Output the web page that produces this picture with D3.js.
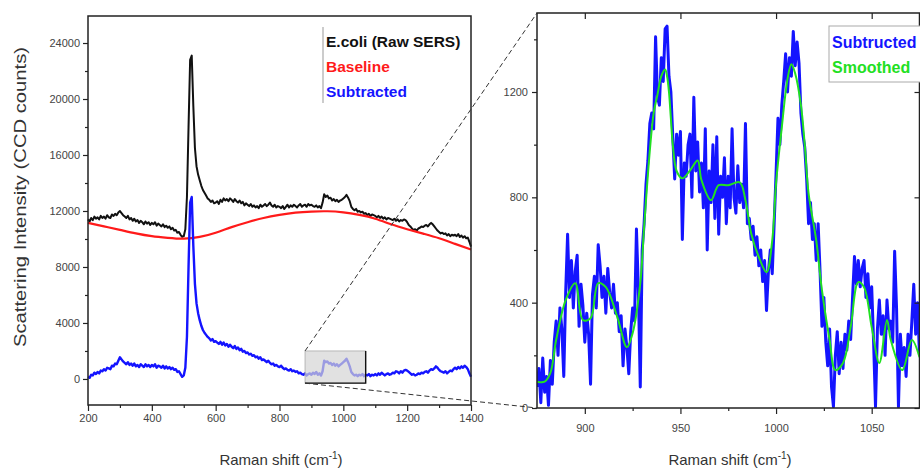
<!DOCTYPE html>
<html>
<head>
<meta charset="utf-8">
<script src="https://cdn.jsdelivr.net/npm/d3@7"></script>
<style>
body { margin: 0; background: #fff; }
svg { display: block; font-family: "Liberation Sans", Arial, sans-serif; }
</style>
</head>
<body>
<div id="chart"></div>
<script>
// full spectrum, 200..1400 cm-1 every 5 cm-1
const shiftStart = 200
const shiftStep = 5
const rawCounts = [
  11400, 11250, 11500, 11350, 11600, 11450, 11550, 11400, 11650, 11500,
  11600, 11450, 11700, 11550, 11500, 11750, 11650, 11800, 11700, 11900,
  12000, 11850, 11700, 11600, 11500, 11650, 11400, 11500, 11300, 11450,
  11250, 11350, 11150, 11300, 11200, 11050, 11250, 11100, 11200, 11000,
  11150, 11050, 11200, 10950, 11100, 11000, 10900, 11050, 10850, 10950,
  10800, 10900, 10700, 10800, 10600, 10650, 10450, 10500, 10300, 10150,
  10200, 10700, 13000, 18000, 22800, 23100, 19500, 16500, 15200, 14600,
  14200, 13800, 13500, 13300, 13100, 12900, 12800, 12650, 12750, 12550,
  12600, 12700, 12500, 12800, 12650, 12900, 12750, 12850, 12700, 12900,
  12800, 12650, 12850, 12700, 12600, 12750, 12550, 12650, 12400, 12550,
  12450, 12350, 12500, 12300, 12400, 12250, 12350, 12200, 12450, 12300,
  12400, 12500, 12350, 12450, 12600, 12400, 12300, 12450, 12250, 12350,
  12300, 12200, 12350, 12150, 12300, 12450, 12250, 12400, 12300, 12450,
  12350, 12250, 12400, 12500, 12300, 12400, 12450, 12300, 12500, 12400,
  12450, 12350, 12300, 12400, 12250, 12350, 12200, 12600, 13200, 13000,
  13100, 12900, 12950, 12750, 12850, 12700, 12800, 12650, 12750, 12800,
  12900, 13000, 13150, 12950, 12700, 12300, 12150, 12050, 12150, 11950,
  12000, 11900, 11950, 11800, 11850, 11700, 11800, 11650, 11750, 11700,
  11650, 11550, 11650, 11500, 11600, 11450, 11550, 11400, 11500, 11450,
  11400, 11350, 11450, 11300, 11400, 11250, 11350, 11300, 11400, 11350,
  11200, 11000, 10900, 10750, 10650, 10700, 10600, 10750, 10800, 10900,
  10850, 10950, 11000, 10900, 11050, 11150, 11050, 10900, 10750, 10600,
  10500, 10400, 10450, 10350, 10400, 10250, 10350, 10200, 10300, 10250,
  10300, 10200, 10350, 10150, 10250, 10100, 10200, 10050, 10100, 9800,
  9450
]
const subtractedCounts = [
  150, 80, 300, 250, 450, 350, 500, 400, 600, 550,
  700, 600, 800, 750, 700, 950, 900, 1100, 1050, 1300,
  1550, 1400, 1250, 1150, 1050, 1200, 1000, 1100, 950, 1100,
  900, 1000, 850, 1050, 950, 850, 1050, 900, 1000, 850,
  1000, 900, 1050, 800, 950, 900, 800, 950, 750, 900,
  750, 850, 700, 800, 650, 700, 500, 550, 350, 150,
  250, 800, 3000, 8000, 12600, 13000, 9500, 6800, 5400, 4700,
  4200, 3800, 3500, 3300, 3150, 3000, 2900, 2750, 2850, 2650,
  2700, 2600, 2500, 2650, 2450, 2600, 2400, 2500, 2300, 2450,
  2300, 2200, 2350, 2150, 2250, 2050, 2150, 1950, 2000, 1850,
  1900, 1750, 1800, 1650, 1700, 1550, 1600, 1450, 1550, 1350,
  1400, 1300, 1200, 1300, 1150, 1050, 1100, 950, 1000, 900,
  850, 950, 800, 700, 750, 650, 600, 700, 550, 600,
  500, 550, 400, 450, 350, 300, 400, 250, 350, 400,
  300, 450, 350, 500, 300, 400, 250, 550, 1300, 1200,
  1250, 1100, 1150, 1000, 1100, 950, 1050, 900, 1000, 1100,
  1200, 1300, 1450, 1200, 900, 500, 350, 250, 300, 200,
  300, 250, 350, 200, 300, 250, 350, 200, 300, 250,
  350, 250, 400, 300, 450, 350, 250, 350, 400, 300,
  350, 450, 400, 550, 500, 400, 550, 450, 600, 650,
  600, 500, 400, 300, 350, 250, 300, 400, 350, 450,
  400, 500, 550, 450, 600, 700, 650, 750, 900, 800,
  650, 550, 500, 450, 550, 400, 500, 600, 550, 700,
  800, 700, 850, 750, 900, 800, 950, 850, 700, 400,
  150
]
const baselineShift = [200, 250, 300, 350, 400, 450, 500, 550, 600, 650, 700, 750, 800,
  850, 900, 950, 1000, 1050, 1100, 1150, 1200, 1250, 1300, 1350, 1400]
const baselineCounts = [11150, 10900, 10650, 10400, 10200, 10080, 10020, 10150, 10450, 10850,
  11200, 11500, 11720, 11880, 11960, 11980, 11900, 11720, 11450, 11050, 10700, 10380, 10050, 9650, 9250]

// zoomed window, 875..1075 cm-1 every 1 cm-1
const zoomStart = 875
const zoomCounts = [
  80, 150, 20, 190, 60, 120, 10, 180, 90, 250,
  330, 200, 380, 300, 120, 440, 660, 420, 560, 380,
  520, 580, 310, 470, 390, 250, 360, 280, 90, 430,
  500, 380, 620, 540, 420, 500, 360, 530, 440, 380,
  470, 360, 400, 290, 350, 160, 300, 230, 130, 290,
  380, 330, 680, 450, 80, 600, 700, 850, 940, 1080,
  1120, 1060, 1410, 1180, 1150, 1330, 1240, 1440, 1450, 1260,
  1200, 1030, 870, 1040, 960, 1050, 640, 930, 880, 1000,
  1040, 800, 1180, 900, 1010, 820, 930, 760, 1060, 600,
  900, 780, 1000, 720, 1030, 660, 880, 800, 950, 700,
  880, 760, 1060, 800, 740, 920, 780, 850, 760, 1080,
  700, 720, 640, 690, 580, 650, 540, 600, 480, 560,
  370, 520, 600, 510, 700, 890, 1100, 1000, 1150, 1240,
  1345, 1200, 1330, 1260, 1430, 1300, 1390, 1310, 1120, 1040,
  990, 870, 700, 780, 640, 700, 560, 700, 520, 310,
  420, 250, 160, 300, 80, 5, 200, 290, 130, 250,
  150, 280, 220, 330, 260, 420, 575, 470, 560, 460,
  530, 560, 420, 510, 380, 460, 250, 5, 300, 410,
  280, 350, 200, 410, 300, 330, 250, 595, 380, 5,
  280, 160, 230, 120, 280, 200, 330, 470, 280, 400,
  200
]
const smoothShift = [875, 879, 882, 885, 890, 895, 899, 903, 907, 911, 917, 922, 925, 929, 931, 934,
  936, 938, 940, 942, 943, 944, 945, 946, 948, 951, 955, 959, 961, 966, 970, 975, 981, 984, 987,
  991, 995, 998, 1000, 1003, 1006, 1008, 1010, 1013, 1015, 1017, 1021, 1024, 1028, 1031, 1035,
  1039, 1043, 1046, 1050, 1054, 1058, 1060, 1066, 1071, 1075]
const smoothCounts = [100, 100, 133, 258, 410, 474, 334, 341, 474, 459, 345, 231, 284, 474, 686, 978,
  1120, 1190, 1260, 1285, 1260, 1200, 1100, 1000, 900, 872, 902, 940, 865, 789, 846, 846, 857, 789, 663,
  573, 516, 637, 853, 1066, 1250, 1305, 1270, 1150, 1000, 815, 637, 447, 258, 144, 171,
  307, 478, 459, 307, 171, 334, 258, 144, 258, 193]

const leftXTicks = [200, 400, 600, 800, 1000, 1200, 1400]
const leftYTicks = [0, 4000, 8000, 12000, 16000, 20000, 24000]
const rightXTicks = [900, 950, 1000, 1050]
const rightYTicks = [0, 400, 800, 1200]
const leftLegend = ["E.coli (Raw SERS)", "Baseline", "Subtracted"]
const rightLegend = ["Subtructed", "Smoothed"]

const width = 920
const height = 471
const colors = { raw: "#111", baseline: "#ff1a1a", sub: "#1414ff", smooth: "#22e022" }

const svg = d3.select("#chart").append("svg")
    .attr("width", width)
    .attr("height", height)

const xL = d3.scaleLinear().domain([200, 1400]).range([88, 471])
const yL = d3.scaleLinear().domain([-1860, 25930]).range([405, 16])
const xR = d3.scaleLinear().domain([875, 1075]).range([537, 919.5])
const yR = d3.scaleLinear().domain([0, 1500]).range([408, 13])

function styleAxis(g, size) {
    g.select(".domain").remove()
    g.selectAll("line").attr("stroke", "#222").attr("stroke-width", 1.2)
    g.selectAll("text").attr("fill", "#444").style("font-size", size + "px")
}

function drawAxes(x, y, o) {
    const [x0, x1] = x.range()
    const [y0, y1] = y.range()
    svg.append("g").attr("transform", `translate(0,${y0})`)
        .call(d3.axisBottom(x).tickValues(o.xTicks).tickSize(6).tickPadding(o.xPad).tickFormat(d3.format("d")))
        .call(g => styleAxis(g, 11))
    svg.append("g").attr("transform", `translate(0,${y0})`)
        .call(d3.axisBottom(x).tickValues(o.xMinor).tickSize(3).tickFormat(""))
        .call(g => styleAxis(g, 11))
    svg.append("g").attr("transform", `translate(${x0},0)`)
        .call(d3.axisLeft(y).tickValues(o.yTicks).tickSize(5).tickPadding(o.yPad).tickFormat(d3.format("d")))
        .call(g => styleAxis(g, 11))
    svg.append("g").attr("transform", `translate(${x0},0)`)
        .call(d3.axisLeft(y).tickValues(o.yMinor).tickSize(3).tickFormat(""))
        .call(g => styleAxis(g, 11))
    if (o.inner) {
        svg.append("g").attr("transform", `translate(0,${y1})`)
            .call(d3.axisBottom(x).tickValues(o.xTicks).tickSize(6).tickFormat(""))
            .call(g => styleAxis(g, 11))
        svg.append("g").attr("transform", `translate(${x1},0)`)
            .call(d3.axisRight(y).tickValues(o.yTicks).tickSize(-5).tickFormat(""))
            .call(g => styleAxis(g, 11))
    }
    svg.append("rect")
        .attr("x", x0).attr("y", y1)
        .attr("width", x1 - x0).attr("height", y0 - y1)
        .attr("fill", "none").attr("stroke", "#222").attr("stroke-width", 1.5)
}

// ---- left panel
const rawLine = d3.line()
    .x((d, i) => xL(shiftStart + i * shiftStep))
    .y(d => yL(d))

svg.append("path").datum(rawCounts)
    .attr("d", rawLine).attr("fill", "none")
    .attr("stroke", colors.raw).attr("stroke-width", 2).attr("stroke-linejoin", "round")

svg.append("path").datum(baselineShift.map((s, i) => [s, baselineCounts[i]]))
    .attr("d", d3.line().x(d => xL(d[0])).y(d => yL(d[1])).curve(d3.curveNatural))
    .attr("fill", "none").attr("stroke", colors.baseline).attr("stroke-width", 2.2)

svg.append("path").datum(subtractedCounts)
    .attr("d", rawLine).attr("fill", "none")
    .attr("stroke", colors.sub).attr("stroke-width", 2.4).attr("stroke-linejoin", "round")

// highlighted window
const win = { x0: 880, x1: 1070, y0: -300, y1: 2000 }
svg.append("rect")
    .attr("x", xL(win.x0)).attr("y", yL(win.y1))
    .attr("width", xL(win.x1) - xL(win.x0)).attr("height", yL(win.y0) - yL(win.y1))
    .attr("fill", "#d4d4d4").attr("fill-opacity", 0.7)
    .attr("stroke", "#aaa").attr("stroke-width", 0.8)
svg.append("path")
    .attr("d", `M${xL(win.x1)},${yL(win.y1)}V${yL(win.y0)}H${xL(win.x0)}`)
    .attr("fill", "none").attr("stroke", "#111").attr("stroke-width", 1.4)

drawAxes(xL, yL, {
    xTicks: leftXTicks, xMinor: [300, 500, 700, 900, 1100, 1300], xPad: 3,
    yTicks: leftYTicks, yMinor: [2000, 6000, 10000, 14000, 18000, 22000], yPad: 3
})

const legL = svg.append("g").attr("font-weight", "bold").style("font-size", "15.5px")
legL.append("line").attr("x1", 323).attr("x2", 323).attr("y1", 27).attr("y2", 103)
    .attr("stroke", "#999").attr("stroke-width", 1)
legL.selectAll("text").data(leftLegend).join("text")
    .attr("x", 326).attr("y", (d, i) => 47 + i * 25)
    .attr("fill", (d, i) => [colors.raw, colors.baseline, colors.sub][i])
    .text(d => d)

// ---- right panel
svg.append("clipPath").attr("id", "clipR").append("rect")
    .attr("x", 537).attr("y", 13).attr("width", 382.5).attr("height", 395)

const zoomLine = d3.line()
    .x((d, i) => xR(zoomStart + i))
    .y(d => yR(d))

svg.append("path").datum(zoomCounts)
    .attr("clip-path", "url(#clipR)")
    .attr("d", zoomLine).attr("fill", "none")
    .attr("stroke", colors.sub).attr("stroke-width", 3).attr("stroke-linejoin", "round")

svg.append("path").datum(smoothShift.map((s, i) => [s, smoothCounts[i]]))
    .attr("clip-path", "url(#clipR)")
    .attr("d", d3.line().x(d => xR(d[0])).y(d => yR(d[1])).curve(d3.curveCatmullRom))
    .attr("fill", "none").attr("stroke", colors.smooth).attr("stroke-width", 2)

drawAxes(xR, yR, {
    xTicks: rightXTicks, xMinor: [925, 975, 1025], xPad: 10,
    yTicks: rightYTicks, yMinor: [200, 600, 1000, 1400], yPad: 4, inner: true
})

const legR = svg.append("g").attr("font-weight", "bold").style("font-size", "16px")
legR.append("rect").attr("x", 829).attr("y", 26).attr("width", 100).attr("height", 56)
    .attr("fill", "#fff").attr("stroke", "#aaa").attr("stroke-width", 1)
legR.selectAll("text").data(rightLegend).join("text")
    .attr("x", 832).attr("y", (d, i) => 48 + i * 25)
    .attr("fill", (d, i) => [colors.sub, colors.smooth][i])
    .text(d => d)

// ---- connector lines between window and zoom panel
const conn = svg.append("g").attr("stroke", "#333").attr("stroke-width", 1)
    .attr("stroke-dasharray", "5,3").attr("fill", "none")
conn.append("line")
    .attr("x1", xL(win.x0)).attr("y1", yL(win.y1))
    .attr("x2", xR(875)).attr("y2", yR(1500))
conn.append("line")
    .attr("x1", xL(win.x0)).attr("y1", yL(win.y0))
    .attr("x2", xR(875)).attr("y2", yR(0))

// ---- axis titles
function xTitle(cx) {
    const t = svg.append("text").attr("x", cx).attr("y", 465)
        .attr("text-anchor", "middle").attr("fill", "#333").style("font-size", "15px")
    t.append("tspan").text("Raman shift (cm")
    t.append("tspan").attr("dy", -6).style("font-size", "10px").text("-1")
    t.append("tspan").attr("dy", 6).text(")")
}
xTitle(281)
xTitle(730)

svg.append("text")
    .attr("transform", "translate(26,197) rotate(-90)")
    .attr("text-anchor", "middle").attr("fill", "#333").style("font-size", "16px")
    .attr("textLength", 300).attr("lengthAdjust", "spacingAndGlyphs")
    .text("Scattering Intensity (CCD counts)")
</script>
</body>
</html>
